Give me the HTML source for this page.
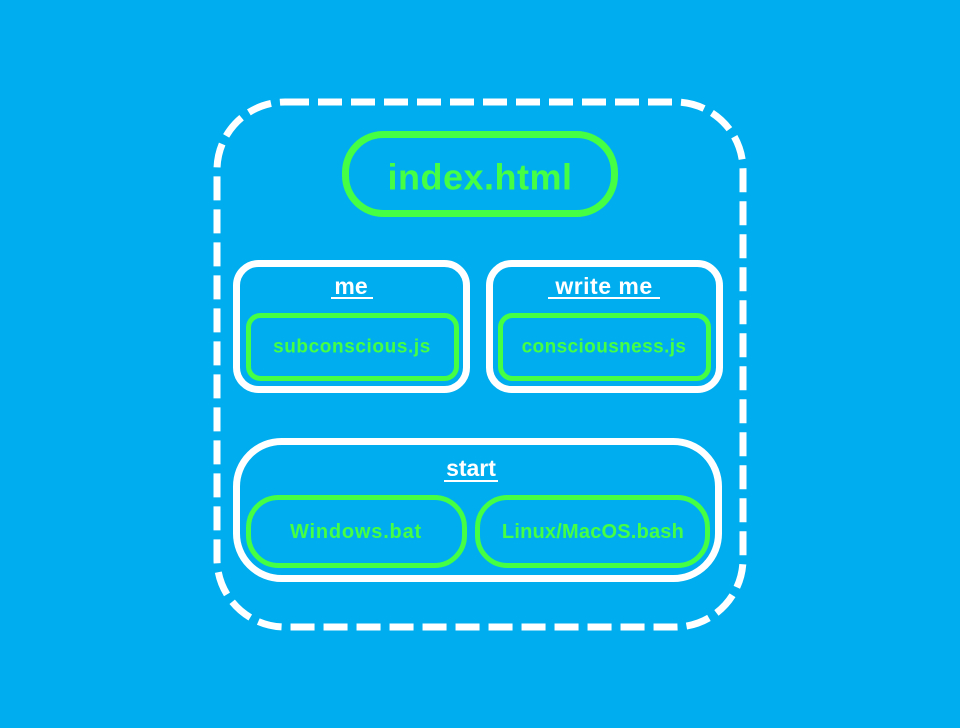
<!DOCTYPE html>
<html><head><meta charset="utf-8"><style>
html,body{margin:0;padding:0;background:#00AEEF;}
svg{display:block}
text{font-family:"Liberation Sans",sans-serif;font-weight:bold;text-anchor:middle;dominant-baseline:central}
</style></head><body>
<svg width="960" height="728" viewBox="0 0 960 728">
<rect width="960" height="728" fill="#00AEEF"/>
<rect x="217" y="102" width="526" height="525" rx="68" fill="none" stroke="#fff" stroke-width="7" stroke-dasharray="24 9"/>
<rect x="345.5" y="134.5" width="269" height="79" rx="38" fill="none" stroke="#44FF44" stroke-width="7"/>
<text x="480" y="177" font-size="36" letter-spacing="0.5" fill="#44FF44">index.html</text>

<rect x="236.5" y="263.5" width="230" height="126" rx="22" fill="none" stroke="#fff" stroke-width="7"/>
<text x="351" y="286" font-size="23" fill="#fff">me</text>
<line x1="331" y1="298" x2="373" y2="298" stroke="#fff" stroke-width="2"/>
<rect x="248.5" y="315.5" width="208" height="63" rx="12" fill="none" stroke="#44FF44" stroke-width="5"/>
<text x="352" y="347" font-size="19" letter-spacing="0.6" fill="#44FF44">subconscious.js</text>

<rect x="489.5" y="263.5" width="230" height="126" rx="22" fill="none" stroke="#fff" stroke-width="7"/>
<text x="604" y="286" font-size="23" letter-spacing="0.5" fill="#fff">write me</text>
<line x1="548" y1="298" x2="660" y2="298" stroke="#fff" stroke-width="2"/>
<rect x="500.5" y="315.5" width="208" height="63" rx="12" fill="none" stroke="#44FF44" stroke-width="5"/>
<text x="604" y="347" font-size="19" letter-spacing="0.4" fill="#44FF44">consciousness.js</text>

<rect x="236.5" y="441.5" width="482" height="137" rx="45" fill="none" stroke="#fff" stroke-width="7"/>
<text x="471" y="468" font-size="23" fill="#fff">start</text>
<line x1="444" y1="481" x2="498" y2="481" stroke="#fff" stroke-width="2"/>
<rect x="248.5" y="497.5" width="216" height="68" rx="30" fill="none" stroke="#44FF44" stroke-width="5"/>
<text x="356" y="532" font-size="20" letter-spacing="0.8" fill="#44FF44">Windows.bat</text>
<rect x="477.5" y="497.5" width="230" height="68" rx="30" fill="none" stroke="#44FF44" stroke-width="5"/>
<text x="593" y="532" font-size="20" letter-spacing="0.2" fill="#44FF44">Linux/MacOS.bash</text>
</svg>
</body></html>
